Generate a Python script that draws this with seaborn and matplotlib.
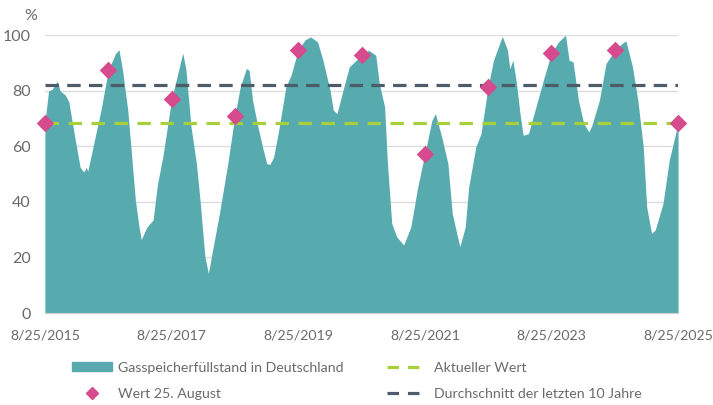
import pandas as pd
import numpy as np
import matplotlib
matplotlib.use("Agg")
import matplotlib.pyplot as plt
from matplotlib.patches import Patch
from matplotlib.lines import Line2D
import seaborn as sns

# Gasspeicherfüllstand (%)
dates = ["2015-08-25", "2015-09-15", "2015-10-05", "2015-11-05", "2015-11-20", "2015-12-20",
         "2016-01-10", "2016-02-10", "2016-03-15", "2016-04-05", "2016-04-20", "2016-04-28",
         "2016-06-05", "2016-07-10", "2016-08-25", "2016-10-05", "2016-10-25", "2016-11-15",
         "2016-12-15", "2017-01-28", "2017-02-18", "2017-03-03", "2017-04-05", "2017-05-10",
         "2017-06-05", "2017-07-05", "2017-08-25", "2017-09-25", "2017-10-28", "2017-11-15",
         "2017-12-15", "2018-01-15", "2018-02-05", "2018-03-05", "2018-03-25", "2018-04-15",
         "2018-05-28", "2018-07-15", "2018-08-25", "2018-09-25", "2018-10-30", "2018-11-15",
         "2018-12-05", "2019-01-05", "2019-02-05", "2019-02-25", "2019-03-15", "2019-04-05",
         "2019-05-05", "2019-06-15", "2019-07-15", "2019-08-25", "2019-10-05", "2019-11-05",
         "2019-12-15", "2020-01-15", "2020-02-25", "2020-03-15", "2020-04-05", "2020-05-25",
         "2020-06-15", "2020-07-05", "2020-08-25", "2020-10-05", "2020-11-15", "2020-12-05",
         "2021-01-05", "2021-01-20", "2021-02-15", "2021-03-15", "2021-04-25", "2021-06-05",
         "2021-07-15", "2021-08-25", "2021-10-05", "2021-10-25", "2021-12-05", "2022-01-05",
         "2022-01-30", "2022-02-25", "2022-03-15", "2022-04-15", "2022-05-05", "2022-06-15",
         "2022-07-15", "2022-08-25", "2022-09-25", "2022-11-15", "2022-12-15", "2022-12-28",
         "2023-01-15", "2023-02-05", "2023-02-25", "2023-03-15", "2023-04-15", "2023-05-28",
         "2023-07-15", "2023-08-25", "2023-10-05", "2023-11-15", "2023-12-05", "2023-12-28",
         "2024-01-28", "2024-02-28", "2024-03-28", "2024-04-15", "2024-05-28", "2024-07-05",
         "2024-08-25", "2024-10-05", "2024-10-28", "2024-12-05", "2025-01-05", "2025-02-05",
         "2025-02-25", "2025-03-25", "2025-04-15", "2025-05-30", "2025-07-05", "2025-08-25"]
fuellstand = [68.5, 80.0, 80.5, 83.5, 80.0, 78.5,
              76.0, 64.5, 52.5, 50.8, 52.5, 51.0,
              62.0, 72.0, 87.4, 93.4, 94.8, 87.4,
              73.0, 40.6, 31.0, 26.5, 31.0, 33.5,
              46.6, 56.2, 77.0, 85.0, 93.6, 88.0,
              67.0, 53.8, 40.6, 20.3, 14.3, 21.5,
              35.9, 53.8, 71.1, 81.4, 88.0, 87.4,
              76.6, 67.0, 58.6, 53.8, 53.5, 56.0,
              65.8, 81.4, 85.6, 94.7, 98.4, 99.4,
              97.6, 91.0, 80.2, 73.0, 71.8, 83.8,
              88.6, 89.8, 92.8, 94.6, 92.8, 82.6,
              74.2, 55.0, 32.3, 27.5, 24.5, 31.0,
              45.4, 57.3, 69.4, 71.8, 62.2, 53.8,
              35.9, 28.7, 23.9, 31.0, 45.4, 59.8,
              64.6, 81.5, 91.0, 99.6, 94.6, 88.0,
              91.0, 82.6, 71.8, 64.0, 64.6, 74.2,
              85.0, 93.5, 97.6, 100.0, 91.0, 90.4,
              76.6, 68.2, 65.2, 67.6, 76.6, 89.8,
              94.6, 97.0, 98.0, 88.6, 76.6, 59.8,
              38.2, 28.7, 29.9, 39.4, 55.0, 68.3]

# Wert am 25. August
aug_dates = ["2015-08-25", "2016-08-25", "2017-08-25", "2018-08-25", "2019-08-25", "2020-08-25",
             "2021-08-25", "2022-08-25", "2023-08-25", "2024-08-25", "2025-08-25"]
aug_values = [68.5, 87.4, 77.0, 71.1, 94.7, 92.8, 57.3, 81.5, 93.5, 94.6, 68.3]

aktueller_wert = 68.3
durchschnitt = 82.0

tick_dates = ["2015-08-25", "2017-08-25", "2019-08-25", "2021-08-25", "2023-08-25", "2025-08-25"]
tick_labels = ["8/25/2015", "8/25/2017", "8/25/2019", "8/25/2021", "8/25/2023", "8/25/2025"]

teal = "#57ABAE"
pink = "#D64A8E"
green = "#A8D03C"
dark = "#4D5C68"
grey_txt = "#6A6A6A"

df = pd.DataFrame({"Datum": pd.to_datetime(dates), "Fuellstand": fuellstand})
df_aug = pd.DataFrame({"Datum": pd.to_datetime(aug_dates), "Wert": aug_values})

sns.set_style("white")
plt.rcParams["font.family"] = ["Lato", "DejaVu Sans"]

fig = plt.figure(figsize=(7.13, 4.05), dpi=100)
ax = fig.add_axes([0.063, 0.227, 0.888, 0.686])

ax.fill_between(df["Datum"], 0, df["Fuellstand"], color=teal, linewidth=0, zorder=2)

x0, x1 = pd.Timestamp(tick_dates[0]), pd.Timestamp(tick_dates[-1])
ax.plot([x0, x1], [aktueller_wert, aktueller_wert], color=green, lw=2.3,
        dashes=(4.2, 3.0), zorder=3)
ax.plot([x0, x1], [durchschnitt, durchschnitt], color=dark, lw=2.3,
        dashes=(4.2, 2.6), zorder=3)

sns.scatterplot(data=df_aug, x="Datum", y="Wert", marker="D", s=80, color=pink,
                edgecolor=pink, linewidth=0, zorder=4, clip_on=False, ax=ax)

ax.set_xlim(x0, x1)
ax.set_ylim(0, 100)
ax.set_yticks([0, 20, 40, 60, 80, 100])
ax.yaxis.grid(True, color="#DCDCDC", lw=1)
ax.set_axisbelow(True)
ax.set_xticks(pd.to_datetime(tick_dates))
ax.set_xticklabels(tick_labels)
ax.set_xlabel("")
ax.set_ylabel("")
for s in ["top", "right", "left"]:
    ax.spines[s].set_visible(False)
ax.spines["bottom"].set_color("#D0D0D0")
ax.tick_params(axis="x", length=5, color="#D0D0D0", labelsize=10.2, labelcolor=grey_txt, pad=7)
ax.tick_params(axis="y", length=0, labelsize=11.5, labelcolor=grey_txt, pad=10)
ax.text(-0.012, 1.045, "%", transform=ax.transAxes, fontsize=11.5, color=grey_txt,
        ha="right", va="bottom")

handles = [Patch(facecolor=teal, edgecolor=teal),
           Line2D([], [], marker="D", color=pink, ls="none", markersize=6),
           Line2D([], [], color=green, lw=2.3, dashes=(3.6, 2.8)),
           Line2D([], [], color=dark, lw=2.3, dashes=(3.6, 2.8))]
labels = ["Gasspeicherfüllstand in Deutschland", "Wert 25. August",
          "Aktueller Wert", "Durchschnitt der letzten 10 Jahre"]
fig.legend(handles, labels, ncol=2, loc="upper left", bbox_to_anchor=(0.101, 0.107),
           frameon=False, fontsize=10.2, labelcolor=grey_txt, handlelength=2.8,
           handleheight=0.6, columnspacing=3.1, labelspacing=1.0, handletextpad=0.45,
           borderaxespad=0, borderpad=0)

fig.savefig("out.png", dpi=100)
